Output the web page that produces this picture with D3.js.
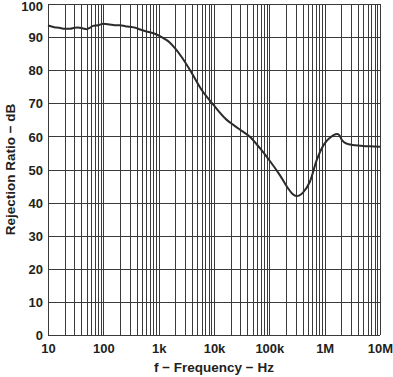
<!DOCTYPE html>
<html>
<head>
<meta charset="utf-8">
<script src="https://cdn.jsdelivr.net/npm/d3@7"></script>
<style>
  body { margin: 0; background: #fff; }
  svg text { font-family: "Liberation Sans", Arial, sans-serif; font-weight: bold; fill: #231f20; }
</style>
</head>
<body>
<svg id="chart" width="393" height="377"></svg>
<script>
var freqs = [10, 13, 16, 20, 25, 30, 35, 43, 50, 57, 65, 80, 100, 130, 160, 200, 250, 300, 380, 460,
  600, 750, 850, 1050, 1300, 1600, 2000, 2600, 3700, 6000, 9800, 15800, 27600, 45000, 67000,
  100000, 155000, 218000, 260000, 310000, 350000, 405000, 540000, 720000, 1000000, 1250000,
  1450000, 1700000, 1850000, 2050000, 2500000, 3200000, 4400000, 6500000, 10000000];
var rejection = [93.5, 93.0, 92.8, 92.5, 92.5, 92.8, 92.9, 92.6, 92.4, 92.8, 93.4, 93.6, 94.0, 93.8,
  93.6, 93.6, 93.3, 93.1, 92.8, 92.3, 91.7, 91.3, 91.0, 90.3, 89.4, 88.3, 86.5, 84.0, 80.0, 74.0,
  69.5, 65.5, 62.4, 59.8, 56.5, 52.8, 48.3, 44.3, 42.7, 42.0, 42.2, 43.0, 46.3, 52.9, 57.9, 59.6,
  60.4, 60.7, 60.3, 58.9, 57.8, 57.4, 57.2, 57.0, 56.9];

var xTicks = [10, 100, 1e3, 1e4, 1e5, 1e6, 1e7];
var xTickLabels = ["10", "100", "1k", "10k", "100k", "1M", "10M"];
var yTicks = [0, 10, 20, 30, 40, 50, 60, 70, 80, 90, 100];

var svg = d3.select("#chart"),
    margin = {top: 4, right: 13, bottom: 42, left: 48},
    width = +svg.attr("width") - margin.left - margin.right,
    height = +svg.attr("height") - margin.top - margin.bottom,
    g = svg.append("g").attr("transform", "translate(" + margin.left + "," + margin.top + ")");

var x = d3.scaleLog().domain([10, 1e7]).range([0, width]),
    y = d3.scaleLinear().domain([0, 100]).range([height, 0]);

// minor + major grid
var gridX = [];
for (var dec = 10; dec < 1e7; dec *= 10) {
  for (var k = 1; k <= 9; k++) gridX.push(dec * k);
}
gridX.push(1e7);

g.selectAll(".vgrid")
  .data(gridX)
  .enter().append("line")
    .attr("class", "vgrid")
    .attr("x1", function(d) { return Math.round(x(d)) + 0.5; })
    .attr("x2", function(d) { return Math.round(x(d)) + 0.5; })
    .attr("y1", 0)
    .attr("y2", height)
    .style("stroke", "#3a3a3a")
    .style("stroke-width", 1);

g.selectAll(".hgrid")
  .data(yTicks)
  .enter().append("line")
    .attr("class", "hgrid")
    .attr("x1", 0)
    .attr("x2", width)
    .attr("y1", function(d) { return Math.round(y(d)) + 0.5; })
    .attr("y2", function(d) { return Math.round(y(d)) + 0.5; })
    .style("stroke", "#3a3a3a")
    .style("stroke-width", 1);

// axes, labels only
var xAxis = g.append("g")
    .attr("transform", "translate(0," + height + ")")
    .call(d3.axisBottom(x).tickValues(xTicks).tickSize(0).tickPadding(9)
      .tickFormat(function(d, i) { return xTickLabels[i]; }));
xAxis.select(".domain").remove();
xAxis.selectAll("text").style("font-size", "13px");

var yAxis = g.append("g")
    .call(d3.axisLeft(y).tickValues(yTicks).tickSize(0).tickPadding(5));
yAxis.select(".domain").remove();
yAxis.selectAll("text").style("font-size", "13px")
    .attr("dy", function(d) { return d === 100 ? "0.5em" : "0.36em"; });

// curve
var line = d3.line()
    .curve(d3.curveMonotoneX)
    .x(function(d, i) { return x(freqs[i]); })
    .y(function(d) { return y(d); });

g.append("path")
    .datum(rejection)
    .attr("d", line)
    .style("fill", "none")
    .style("stroke", "#2b2b2b")
    .style("stroke-width", 2);

// axis titles
svg.append("text")
    .attr("x", margin.left + width / 2)
    .attr("y", 372)
    .attr("text-anchor", "middle")
    .style("font-size", "13.5px")
    .text("f \u2212 Frequency \u2212 Hz");

svg.append("text")
    .attr("transform", "translate(15," + (margin.top + height / 2) + ") rotate(-90)")
    .attr("text-anchor", "middle")
    .style("font-size", "13.5px")
    .text("Rejection Ratio \u2212 dB");
</script>
</body>
</html>
